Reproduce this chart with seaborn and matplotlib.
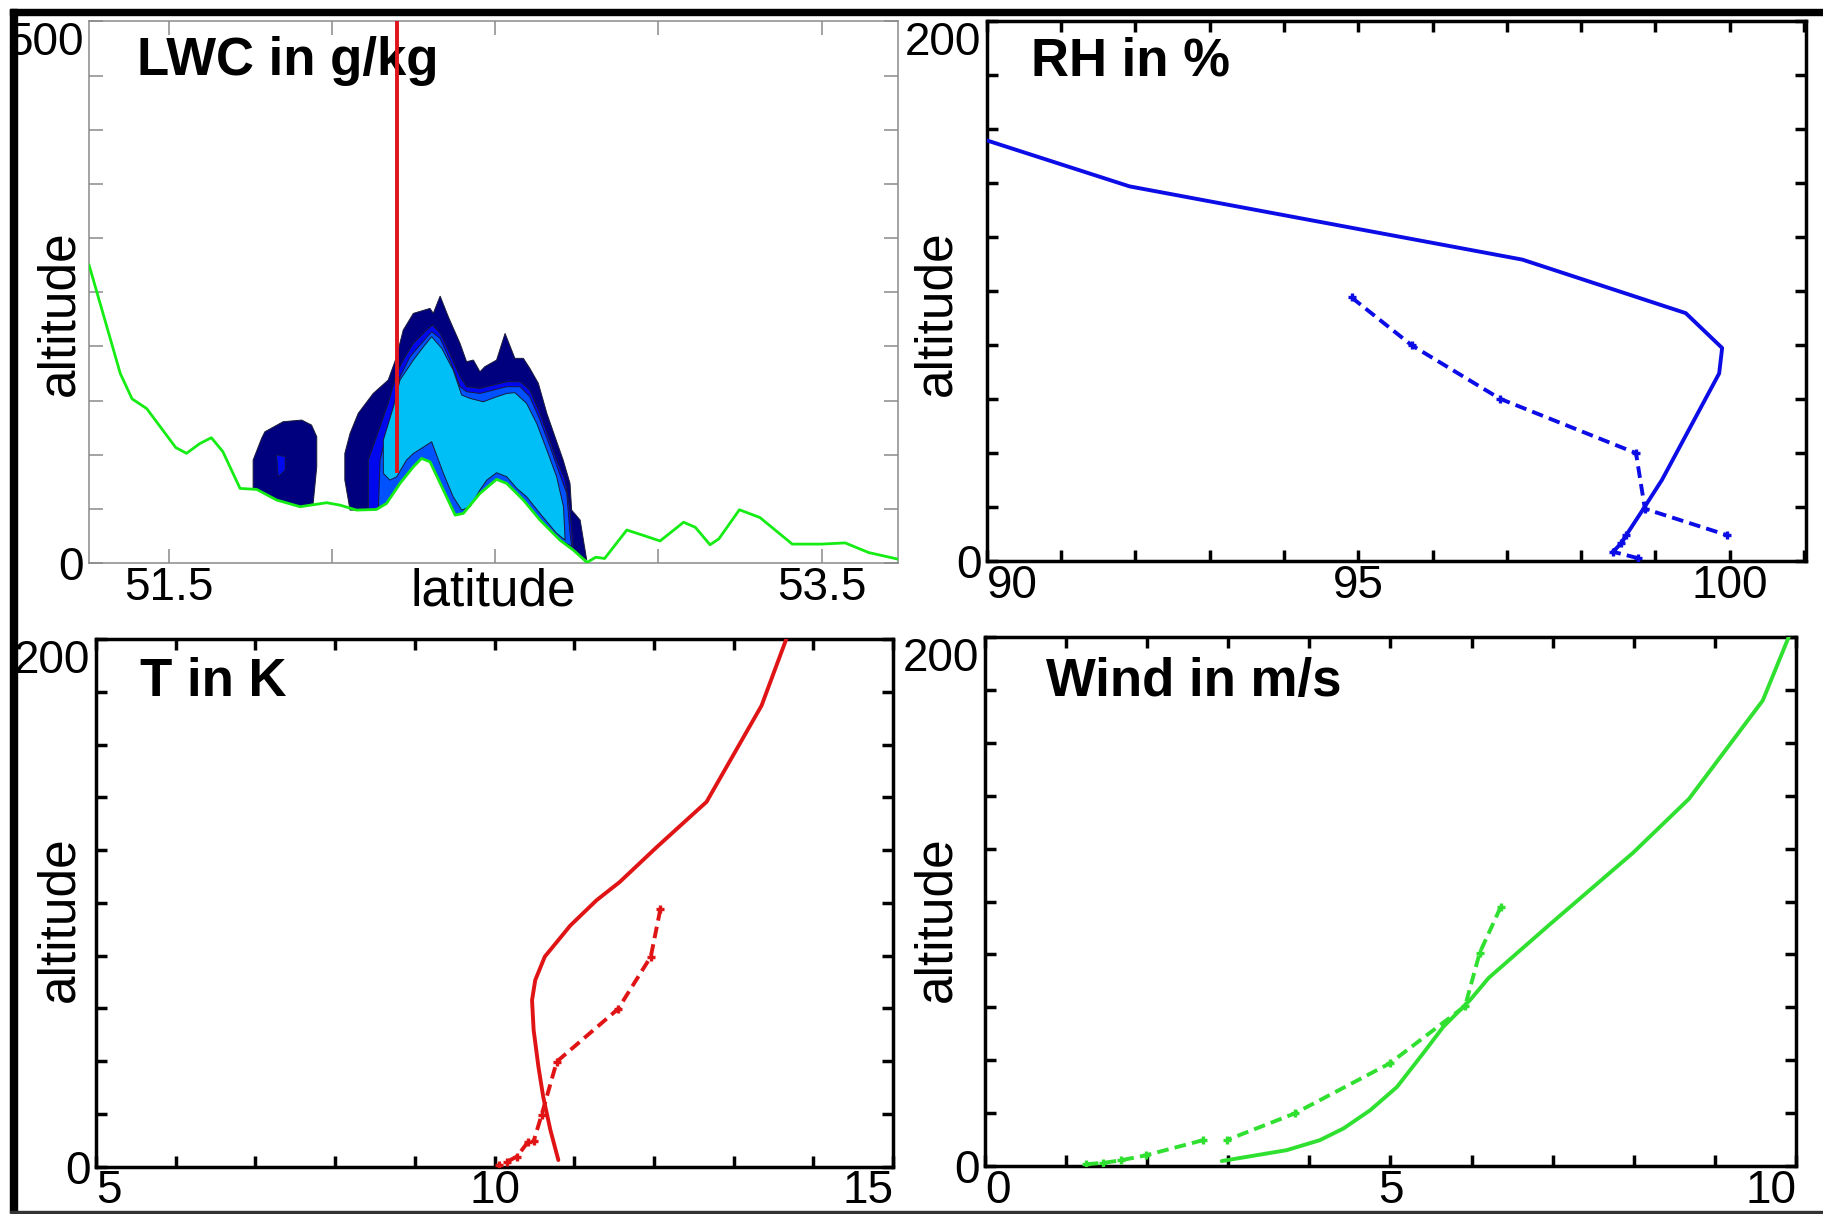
"""
Four-panel figure: LWC cross-section (latitude vs altitude) plus
model (solid) vs observed (dashed) profiles of RH, T and wind.
"""
import numpy as np
import matplotlib
matplotlib.use('Agg')
import matplotlib.pyplot as plt
from matplotlib.patches import Rectangle
import seaborn as sns

sns.set_style('white')
plt.rcParams['font.family'] = ['Liberation Sans', 'DejaVu Sans']
plt.rcParams.update({'text.color': 'black', 'axes.labelcolor': 'black',
                     'xtick.color': 'black', 'ytick.color': 'black'})

# ── Panel a: LWC cross-section ──
TERRAIN_LAT = [51.255, 51.351, 51.387, 51.432, 51.521, 51.554, 51.594, 51.630,
               51.665, 51.718, 51.769, 51.830, 51.902, 51.983, 52.024, 52.075,
               52.136, 52.167, 52.208, 52.249, 52.274, 52.300, 52.341, 52.377,
               52.402, 52.453, 52.504, 52.535, 52.586, 52.637, 52.698, 52.739,
               52.781, 52.808, 52.835, 52.903, 52.951, 53.005, 53.077, 53.113,
               53.158, 53.185, 53.248, 53.311, 53.410, 53.500, 53.572, 53.644,
               53.734]
TERRAIN_ALT = [275.5, 175.0, 151.6, 142.6, 106.6, 101.3, 110.2, 115.7,
               103.0, 68.9, 68.0, 58.2, 52.0, 55.7, 53.5, 48.9,
               49.5, 55.1, 73.5, 88.9, 96.6, 93.5, 67.4, 44.3,
               45.8, 64.3, 77.3, 73.5, 58.2, 39.7, 21.2, 12.0,
               0.6, 5.4, 4.2, 30.5, 25.8, 20.4, 37.7, 33.0,
               16.9, 22.3, 49.2, 42.0, 17.5, 17.5, 18.6, 9.7,
               3.6]

# red section marker
CUT_LAT, CUT_BOTTOM, CUT_TOP = 52.20, 83.0, 500.0

# contour outlines (upper edge); clouds rest on the terrain below
SMALL_NAVY_LAT = [51.758, 51.758, 51.784, 51.794, 51.850, 51.907, 51.937, 51.953, 51.953, 51.942]
SMALL_NAVY_ALT = [68.9, 95.1, 115.1, 121.2, 130.5, 132.0, 127.4, 116.6, 88.9, 55.1]
SMALL_BLUE_LAT = [51.830, 51.856, 51.856, 51.835]
SMALL_BLUE_ALT = [99.7, 98.2, 85.9, 79.7]

NAVY_LAT = [52.055, 52.039, 52.039, 52.055, 52.080, 52.126, 52.172, 52.196, 52.218,
            52.249, 52.300, 52.310, 52.331, 52.356, 52.392, 52.412, 52.433, 52.453,
            52.468, 52.504, 52.530, 52.560, 52.586, 52.606, 52.632, 52.658, 52.683,
            52.708, 52.729, 52.734, 52.760, 52.780]
NAVY_ALT = [48.9, 76.6, 101.2, 119.7, 138.2, 156.6, 169.0, 189.0, 215.1,
            230.5, 235.1, 230.5, 246.5, 227.4, 202.8, 185.9, 187.4, 176.6,
            181.3, 187.4, 212.0, 189.0, 189.0, 179.7, 165.9, 138.2, 116.6,
            95.1, 73.5, 48.9, 39.7, 3.0]

BLUE_LAT = [52.111, 52.111, 52.136, 52.172, 52.198, 52.218, 52.249, 52.290, 52.308,
            52.331, 52.356, 52.392, 52.412, 52.453, 52.494, 52.535, 52.576, 52.606,
            52.637, 52.663, 52.688, 52.714, 52.729, 52.739]
BLUE_ALT = [48.5, 95.1, 116.6, 147.4, 175.1, 187.4, 202.8, 215.1, 219.7,
            212.0, 196.6, 172.0, 162.8, 161.2, 164.3, 167.4, 167.4, 159.7,
            138.2, 116.6, 95.1, 76.6, 48.9, 12.5]

MEDBLUE_LAT = [52.142, 52.147, 52.167, 52.193, 52.208, 52.239, 52.274, 52.305, 52.331,
               52.361, 52.392, 52.412, 52.453, 52.494, 52.535, 52.576, 52.606, 52.637,
               52.668, 52.693, 52.719, 52.729, 52.734]
MEDBLUE_ALT = [52.0, 95.1, 119.7, 147.4, 172.0, 190.5, 202.8, 213.5, 207.4,
               187.4, 162.8, 158.2, 156.6, 159.7, 162.8, 162.8, 153.5, 132.0,
               107.4, 85.9, 64.3, 27.4, 15.5]

# light core: closed outline (top edge left->right, then lower edge back)
CYAN_LAT = [52.157, 52.157, 52.188, 52.208, 52.249, 52.280, 52.305, 52.336, 52.371,
            52.397, 52.423, 52.463, 52.504, 52.535, 52.560, 52.596, 52.627, 52.658,
            52.688, 52.709, 52.714, 52.688, 52.637, 52.596, 52.566, 52.535, 52.504,
            52.474, 52.453, 52.423, 52.397, 52.371, 52.341, 52.305, 52.274, 52.249,
            52.228, 52.198, 52.177]
CYAN_ALT = [82.8, 113.5, 144.3, 169.0, 187.4, 199.7, 209.0, 198.2, 178.2,
            155.1, 152.0, 148.9, 153.5, 156.6, 157.3, 147.4, 128.9, 104.3,
            79.7, 52.0, 21.2, 27.4, 45.8, 61.2, 68.9, 79.7, 83.4,
            76.6, 67.4, 52.0, 48.9, 61.2, 82.8, 112.0, 105.9, 101.2,
            95.1, 79.7, 76.6]

# ── Panel b: relative humidity ──
RH_MODEL_ALT = [155.8, 138.8, 111.7, 91.9, 79.0, 69.6, 30.2, 19.9, 9.8, 6.7, 3.6]
RH_MODEL = [90.0, 91.92, 97.21, 99.41, 99.90, 99.86, 99.09, 98.85, 98.61, 98.54, 98.43]
RH_OBS_ALT = [97.7, 80.0, 60.2, 40.1, 19.5, 9.8]
RH_OBS = [94.91, 95.72, 96.91, 98.74, 98.86, 99.96]
RH_SFC_ALT = [9.8, 6.7, 3.6, 1.2]
RH_SFC = [98.61, 98.54, 98.43, 98.77]

# ── Panel c: temperature ──
T_MODEL_ALT = [200.0, 174.8, 138.3, 121.0, 107.9, 101.0, 91.4, 79.6, 70.7, 63.1,
               51.8, 37.9, 26.5, 13.9, 2.5]
T_MODEL = [13.66, 13.35, 12.66, 12.03, 11.57, 11.28, 10.95, 10.63, 10.51, 10.47,
           10.49, 10.55, 10.61, 10.70, 10.80]
T_OBS_ALT = [97.6, 79.6, 59.8, 39.8, 19.6, 9.6]
T_OBS = [12.08, 11.96, 11.55, 10.78, 10.59, 10.49]
T_SFC_ALT = [9.4, 3.8, 1.8, 0.6]
T_SFC = [10.42, 10.28, 10.15, 10.05]

# ── Panel d: wind speed ──
WIND_MODEL_ALT = [200.0, 176.0, 138.8, 118.4, 90.7, 71.1, 62.7, 52.6, 42.5, 29.9,
                  21.1, 14.2, 9.8, 6.0, 1.9]
WIND_MODEL = [9.91, 9.59, 8.68, 7.99, 6.94, 6.21, 5.98, 5.65, 5.40, 5.08,
              4.75, 4.42, 4.13, 3.72, 2.92]
WIND_OBS_ALT = [98.0, 80.6, 60.5, 38.8, 19.9, 9.8]
WIND_OBS = [6.36, 6.10, 5.92, 4.99, 3.82, 2.98]
WIND_SFC_ALT = [9.8, 4.1, 2.2, 1.2, 0.7]
WIND_SFC = [2.69, 1.99, 1.68, 1.46, 1.25]

NAVY, BLUE, MEDBLUE, CYAN = '#00007f', '#0008ee', '#0052ff', '#00bef6'
GREEN_TERRAIN = '#14ec14'
RH_C, T_C, WIND_C = '#0c0ce6', '#e01414', '#30e030'

TICK_FS, LABEL_FS, TITLE_FS = 33, 37, 38
DASH = (0, (3.0, 1.6))


def on_terrain(lat_top, alt_top):
    """Close a contour outline along the terrain line below it."""
    t_lat, t_alt = np.asarray(TERRAIN_LAT), np.asarray(TERRAIN_ALT)
    m = (t_lat > min(lat_top[0], lat_top[-1])) & (t_lat < max(lat_top[0], lat_top[-1]))
    return (list(lat_top) + list(t_lat[m][::-1]),
            list(alt_top) + list(t_alt[m][::-1]))


def profile(ax, model_x, model_y, obs_x, obs_y, sfc_x, sfc_y, color):
    sns.lineplot(x=model_x, y=model_y, sort=False, estimator=None, ax=ax,
                 color=color, linewidth=2.8, zorder=3)
    for xs, ys in ((obs_x, obs_y), (sfc_x, sfc_y)):
        sns.lineplot(x=xs, y=ys, sort=False, estimator=None, ax=ax,
                     color=color, linewidth=2.8, linestyle=DASH,
                     marker='+', markersize=6, markeredgewidth=2.4,
                     markeredgecolor=color, markerfacecolor=color, zorder=4)


def style_axes(ax, xlim, xticks, xlabels, ylim, yticks, ylabels, color, lw):
    ax.set_xlim(*xlim); ax.set_ylim(*ylim)
    ax.set_xticks(xticks); ax.set_xticklabels(xlabels)
    ax.set_yticks(yticks); ax.set_yticklabels(ylabels)
    for s in ax.spines.values():
        s.set_visible(True); s.set_color(color); s.set_linewidth(lw)
    ax.tick_params(direction='in', bottom=True, left=True, top=True, right=True,
                   length=8, width=lw, color=color, labelsize=TICK_FS,
                   labelcolor='black')
    ax.tick_params(axis='x', pad=2)
    ax.tick_params(axis='y', pad=4)
    ax.yaxis.get_major_ticks()[-1].label1.set_va('top')
    ax.set_xlabel('')
    ax.set_ylabel('altitude', fontsize=LABEL_FS, va='center', color='black')


def blank_except(ticks, keep):
    return [f'{t:g}' if t in keep else '' for t in ticks]


fig = plt.figure(figsize=(18.23, 12.14), dpi=100)
ax_lwc = fig.add_axes([0.0488, 0.5362, 0.4438, 0.4461])
ax_rh = fig.add_axes([0.5414, 0.5375, 0.4493, 0.4452])
ax_t = fig.add_axes([0.0527, 0.0390, 0.4372, 0.4346])
ax_w = fig.add_axes([0.5403, 0.0395, 0.4449, 0.4358])

# panel a
for lat, alt, c in ((SMALL_NAVY_LAT, SMALL_NAVY_ALT, NAVY), (NAVY_LAT, NAVY_ALT, NAVY),
                    (BLUE_LAT, BLUE_ALT, BLUE), (MEDBLUE_LAT, MEDBLUE_ALT, MEDBLUE)):
    px, py = on_terrain(lat, alt)
    ax_lwc.fill(px, py, facecolor=c, edgecolor='#1b1b3a', linewidth=0.7, zorder=1)
ax_lwc.fill(SMALL_BLUE_LAT, SMALL_BLUE_ALT, facecolor=BLUE, edgecolor='#1b1b3a',
            linewidth=0.5, zorder=1)
ax_lwc.fill(CYAN_LAT, CYAN_ALT, facecolor=CYAN, edgecolor='#1b1b3a', linewidth=0.7, zorder=1)
sns.lineplot(x=TERRAIN_LAT, y=TERRAIN_ALT, sort=False, estimator=None, ax=ax_lwc,
             color=GREEN_TERRAIN, linewidth=2.0, zorder=3)
ax_lwc.vlines(CUT_LAT, CUT_BOTTOM, CUT_TOP, color='#e0141c', linewidth=2.8, zorder=4)

lat_ticks = [51.5, 52.0, 52.5, 53.0, 53.5]
alt_ticks = list(range(0, 501, 50))
style_axes(ax_lwc, (51.255, 53.734), lat_ticks, blank_except(lat_ticks, (51.5, 53.5)),
           (0, 500), alt_ticks, blank_except(alt_ticks, (0, 500)), '#8a8a8a', 1.1)
ax_lwc.tick_params(length=10)
ax_lwc.set_xlabel('latitude', fontsize=LABEL_FS, va='center', color='black')
ax_lwc.xaxis.set_label_coords(0.5, -0.054)
ax_lwc.yaxis.set_label_coords(-0.036, 0.462)

# panel b
profile(ax_rh, RH_MODEL, RH_MODEL_ALT, RH_OBS, RH_OBS_ALT, RH_SFC, RH_SFC_ALT, RH_C)
rh_ticks = list(range(90, 102))
p_ticks = list(range(0, 201, 20))
style_axes(ax_rh, (90, 101.03), rh_ticks, blank_except(rh_ticks, (90, 95, 100)),
           (0, 200), p_ticks, blank_except(p_ticks, (0, 200)), 'black', 2.5)
ax_rh.xaxis.get_major_ticks()[0].label1.set_ha('left')
ax_rh.yaxis.set_label_coords(-0.061, 0.46)

# panel c
profile(ax_t, T_MODEL, T_MODEL_ALT, T_OBS, T_OBS_ALT, T_SFC, T_SFC_ALT, T_C)
t_ticks = list(range(5, 16))
style_axes(ax_t, (5, 15), t_ticks, blank_except(t_ticks, (5, 10, 15)),
           (0, 200), p_ticks, blank_except(p_ticks, (0, 200)), 'black', 2.5)
ax_t.xaxis.get_major_ticks()[0].label1.set_ha('left')
ax_t.xaxis.get_major_ticks()[-1].label1.set_ha('right')
ax_t.yaxis.set_label_coords(-0.046, 0.469)

# panel d
profile(ax_w, WIND_MODEL, WIND_MODEL_ALT, WIND_OBS, WIND_OBS_ALT, WIND_SFC, WIND_SFC_ALT, WIND_C)
w_ticks = list(range(0, 11))
style_axes(ax_w, (0, 10), w_ticks, blank_except(w_ticks, (0, 5, 10)),
           (0, 200), p_ticks, blank_except(p_ticks, (0, 200)), 'black', 2.5)
ax_w.xaxis.get_major_ticks()[0].label1.set_ha('left')
ax_w.xaxis.get_major_ticks()[-1].label1.set_ha('right')
ax_w.yaxis.set_label_coords(-0.059, 0.467)

# panel titles
for ax, txt, x, y in ((ax_lwc, 'LWC in g/kg', 0.059, 0.902), (ax_rh, 'RH in %', 0.054, 0.90),
                      (ax_t, 'T in K', 0.055, 0.892), (ax_w, 'Wind in m/s', 0.075, 0.888)):
    ax.text(x, y, txt, transform=ax.transAxes, fontsize=TITLE_FS, fontweight='bold',
            ha='left', va='baseline', color='black')

# frame drawn round the whole composite
fig.add_artist(Rectangle((0.0055, 0.9876), 0.9945, 0.0052, transform=fig.transFigure,
                         color='black', zorder=10))
fig.add_artist(Rectangle((0.0055, 0.0015), 0.0039, 0.991, transform=fig.transFigure,
                         color='black', zorder=10))
fig.add_artist(Rectangle((0.0055, 0.0005), 0.9945, 0.0018, transform=fig.transFigure,
                         color='#333333', zorder=10))

fig.savefig('out.png', dpi=100)
